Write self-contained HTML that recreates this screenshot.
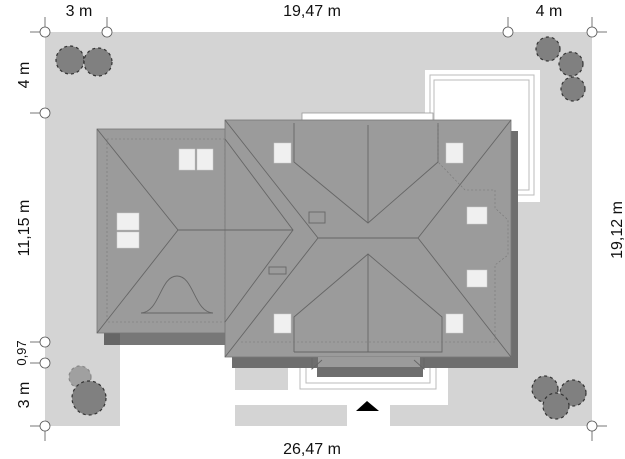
<!DOCTYPE html>
<html><head><meta charset="utf-8"><style>
html,body{margin:0;padding:0;background:#fff;}
svg{display:block;}
text{font-family:"Liberation Sans",sans-serif;font-size:16px;fill:#111;}
</style></head><body>
<svg width="625" height="459" viewBox="0 0 625 459" xmlns="http://www.w3.org/2000/svg">
<!-- plot -->
<rect x="45" y="32" width="547" height="394" fill="#d4d4d4"/>
<!-- white cutouts bottom -->
<rect x="120" y="345" width="328" height="60" fill="#fff"/>
<rect x="120" y="405" width="115" height="21" fill="#fff"/>
<rect x="347" y="405" width="43" height="21" fill="#fff"/>
<rect x="235" y="368" width="53" height="22" fill="#d4d4d4"/>
<!-- terrace -->
<rect x="425" y="70" width="115" height="132" fill="#fff"/>
<rect x="430" y="75" width="104" height="120" fill="none" stroke="#bbb" stroke-width="1"/>
<rect x="434" y="80" width="95" height="110" fill="none" stroke="#bbb" stroke-width="1"/>
<rect x="302" y="113" width="131" height="11" fill="#fff" stroke="#999" stroke-width="0.8"/>
<!-- entrance outlines -->
<rect x="300" y="355" width="136" height="34" fill="#fff" stroke="#bbb"/>
<rect x="306" y="355" width="124" height="28" fill="none" stroke="#bbb"/>
<!-- shadows -->
<rect x="104" y="333" width="121" height="12" fill="#777"/>
<rect x="104" y="333" width="16" height="12" fill="#666"/>
<rect x="232" y="357" width="286" height="11" fill="#6e6e6e"/>
<rect x="511" y="131" width="7" height="237" fill="#6e6e6e"/>
<rect x="317" y="366" width="106" height="11" fill="#6e6e6e"/>
<!-- left wing -->
<rect x="97" y="129" width="135" height="204" fill="#9b9b9b" stroke="#777" stroke-width="0.8"/>
<rect x="107" y="139" width="118" height="183" fill="none" stroke="#777" stroke-width="0.6" stroke-dasharray="2,2"/>
<!-- center -->
<rect x="225" y="120" width="286" height="237" fill="#9b9b9b" stroke="#777" stroke-width="0.8"/>
<rect x="233" y="357" width="0" height="0"/>
<rect x="318" y="357" width="102" height="10" fill="#9b9b9b"/>
<g stroke="#666" stroke-width="0.9" fill="none">
<polyline points="97,129 178,230 97,333"/>
<line x1="178" y1="230" x2="293" y2="230"/>
<polyline points="225,139 293,230 225,322"/>
<polyline points="225,120 318,238 225,357"/>
<line x1="318" y1="238" x2="418" y2="238"/>
<polyline points="511,120 418,238 511,357"/>
<polyline points="294,123 294,162 368,223 438,162 438,123"/>
<line x1="368" y1="125" x2="368" y2="223"/>
<polyline points="294,352 294,317 368,254 442,317 442,352 294,352"/>
<line x1="368" y1="254" x2="368" y2="352"/>
<path d="M141,313 C160,312 160,276 177,276 C194,276 194,312 213,313 Z"/>
<rect x="309" y="212" width="16" height="11"/>
<rect x="269" y="267" width="17" height="7"/>
<polyline points="312,358 312,369 322,360"/>
<polyline points="424,358 424,369 414,360"/>
</g>
<g stroke="#777" stroke-width="0.6" fill="none" stroke-dasharray="2,2">
<polyline points="438,123 438,162 465,190 465,190 465,190 495,190 495,208 508,220 508,255 495,265 495,342 240,342"/>
</g>
<!-- windows -->
<g fill="#f0f0f0" stroke="#ccc" stroke-width="0.5">
<rect x="179" y="149" width="16" height="21"/><rect x="197" y="149" width="16" height="21"/>
<rect x="117" y="213" width="22" height="17"/><rect x="117" y="232" width="22" height="16"/>
<rect x="274" y="143" width="17" height="20"/><rect x="446" y="143" width="17" height="20"/>
<rect x="467" y="207" width="20" height="17"/><rect x="467" y="270" width="20" height="17"/>
<rect x="274" y="314" width="17" height="19"/><rect x="446" y="314" width="17" height="19"/>
</g>
<!-- trees -->
<g fill="#808080" stroke="#333" stroke-width="1.2" stroke-dasharray="3,3">
<circle cx="70" cy="60" r="14"/><circle cx="98" cy="62" r="14"/>
<circle cx="548" cy="49" r="12"/><circle cx="571" cy="64" r="12"/><circle cx="573" cy="89" r="12"/>
<circle cx="80" cy="377" r="11" fill="#a0a0a0" stroke="#888"/><circle cx="89" cy="398" r="17"/>
<circle cx="545" cy="389" r="13"/><circle cx="573" cy="393" r="13"/><circle cx="556" cy="406" r="13"/>
</g>
<!-- arrow -->
<polygon points="356,411 367,401 379,411" fill="#000"/>
<!-- dimension markers -->
<g stroke="#555" stroke-width="0.8" fill="#fff">
<line x1="30" y1="32" x2="45" y2="32"/><line x1="45" y1="17" x2="45" y2="32"/>
<line x1="107" y1="17" x2="107" y2="32"/><line x1="508" y1="17" x2="508" y2="32"/>
<line x1="592" y1="17" x2="592" y2="32"/><line x1="592" y1="32" x2="607" y2="32"/>
<line x1="30" y1="113" x2="45" y2="113"/><line x1="30" y1="342" x2="45" y2="342"/>
<line x1="30" y1="363" x2="45" y2="363"/><line x1="30" y1="426" x2="45" y2="426"/>
<line x1="45" y1="426" x2="45" y2="441"/><line x1="592" y1="426" x2="607" y2="426"/>
<line x1="592" y1="426" x2="592" y2="441"/>
<circle cx="45" cy="32" r="5"/><circle cx="107" cy="32" r="5"/><circle cx="508" cy="32" r="5"/><circle cx="592" cy="32" r="5"/>
<circle cx="45" cy="113" r="5"/><circle cx="45" cy="342" r="5"/><circle cx="45" cy="363" r="5"/><circle cx="45" cy="426" r="5"/>
<circle cx="592" cy="426" r="5"/>
</g>
<!-- labels -->
<text x="79" y="16" text-anchor="middle">3 m</text>
<text x="312" y="16" text-anchor="middle">19,47 m</text>
<text x="549" y="16" text-anchor="middle">4 m</text>
<text x="312" y="454" text-anchor="middle">26,47 m</text>
<text transform="translate(29,75) rotate(-90)" text-anchor="middle">4 m</text>
<text transform="translate(29,228) rotate(-90)" text-anchor="middle">11,15 m</text>
<text transform="translate(26,353) rotate(-90)" text-anchor="middle" style="font-size:13px">0,97</text>
<text transform="translate(29,395) rotate(-90)" text-anchor="middle">3 m</text>
<text transform="translate(622,230) rotate(-90)" text-anchor="middle">19,12 m</text>
</svg>
</body></html>
